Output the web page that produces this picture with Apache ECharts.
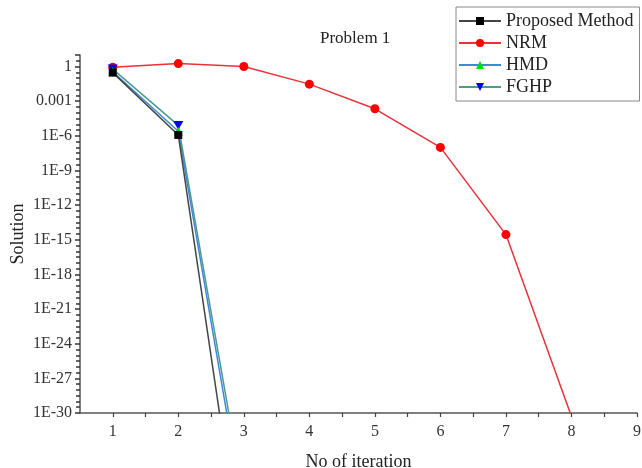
<!DOCTYPE html>
<html><head><meta charset="utf-8">
<script src="https://cdn.jsdelivr.net/npm/echarts@6/dist/echarts.min.js"></script>
<style>html,body{margin:0;padding:0;background:#fff}#c{width:642px;height:468px}</style>
</head><body><div id="c"></div>
<script>
const iterations = [1, 2, 3, 4, 5, 6, 7, 8];
const proposed = [0.3, 1.2e-6, 6e-45];
const nrm = [0.85, 1.8, 1.0, 0.03, 2.2e-4, 1e-7, 2.8e-15, 5e-31];
const hmd = [0.35, 2.5e-6, 2.5e-39];
const fghp = [0.6, 8e-6, 4e-38];
const seriesNames = ['Proposed Method', 'NRM', 'HMD', 'FGHP'];
const yTickExponents = [0, -3, -6, -9, -12, -15, -18, -21, -24, -27, -30];

const FONT = '"Liberation Serif", "Times New Roman", serif';
function toPts(vals) { return vals.map((v, i) => [iterations[i], Math.log10(v)]); }
function fmtExp(e) {
  if (e === 0) return '1';
  if (e === -3) return '0.001';
  return '1E' + e;
}
const invTri = 'path://M0,0 L10,0 L5,9 Z';

const chart = echarts.init(document.getElementById('c'), null, {renderer: 'canvas'});
chart.setOption({
  animation: false,
  backgroundColor: '#fff',
  title: {
    text: 'Problem 1', left: 315, top: 25,
    textStyle: {fontFamily: FONT, fontSize: 17, fontWeight: 'normal', color: '#222'}
  },
  legend: {
    orient: 'vertical', left: 456, top: 7,
    data: seriesNames,
    borderColor: '#888', borderWidth: 1, borderRadius: 0,
    padding: [5, 6, 5, 2],
    itemWidth: 42, itemHeight: 10, itemGap: 4,
    textStyle: {fontFamily: FONT, fontSize: 18, color: '#222'}
  },
  grid: {left: 80, right: 5, top: 55, bottom: 55, containLabel: false, outerBoundsMode: 'none'},
  xAxis: {
    type: 'value', min: 0.5, max: 9, interval: 0.5,
    name: 'No of iteration', nameLocation: 'middle', nameGap: 40,
    nameTextStyle: {fontFamily: FONT, fontSize: 18, color: '#222'},
    axisLine: {onZero: false, lineStyle: {color: '#555', width: 1.5}},
    axisTick: {show: true, length: 4, lineStyle: {color: '#444', width: 1.2}},
    axisLabel: {
      fontFamily: FONT, fontSize: 16, color: '#333', margin: 11,
      showMinLabel: false,
      formatter: v => (Number.isInteger(v) ? String(v) : '')
    },
    splitLine: {show: false}
  },
  yAxis: {
    type: 'value', min: -30, max: 1, interval: 3,
    name: 'Solution', nameLocation: 'middle', nameGap: 53, nameRotate: 90,
    nameMoveOverlap: false,
    nameTextStyle: {fontFamily: FONT, fontSize: 18, color: '#222'},
    axisLine: {show: true, onZero: false, lineStyle: {color: '#555', width: 1.5}},
    axisTick: {show: true, length: 5, lineStyle: {color: '#333', width: 1.5}},
    minorTick: {show: true, splitNumber: 6, length: 4, lineStyle: {color: '#333', width: 1.5}},
    axisLabel: {
      fontFamily: FONT, fontSize: 16, color: '#333', margin: 8,
      showMaxLabel: false,
      formatter: v => (yTickExponents.indexOf(v) >= 0 ? fmtExp(v) : '')
    },
    splitLine: {show: false}
  },
  series: [
    {
      name: seriesNames[0], type: 'line', data: toPts(proposed), clip: true,
      symbol: 'rect', symbolSize: 8,
      lineStyle: {color: '#444', width: 1.5},
      itemStyle: {color: '#000'}, z: 5
    },
    {
      name: seriesNames[1], type: 'line', data: toPts(nrm), clip: true,
      symbol: 'circle', symbolSize: 9,
      lineStyle: {color: '#e8323a', width: 1.5},
      itemStyle: {color: '#f00'}, z: 2
    },
    {
      name: seriesNames[2], type: 'line', data: toPts(hmd), clip: true,
      symbol: 'triangle', symbolSize: 9,
      lineStyle: {color: '#3a8ad8', width: 1.5},
      itemStyle: {color: '#00e000'}, z: 4
    },
    {
      name: seriesNames[3], type: 'line', data: toPts(fghp), clip: true,
      symbol: invTri, symbolSize: [10, 9],
      lineStyle: {color: '#4f9a8c', width: 1.5},
      itemStyle: {color: '#0000f0'}, z: 3
    }
  ]
});
</script>
</body></html>
